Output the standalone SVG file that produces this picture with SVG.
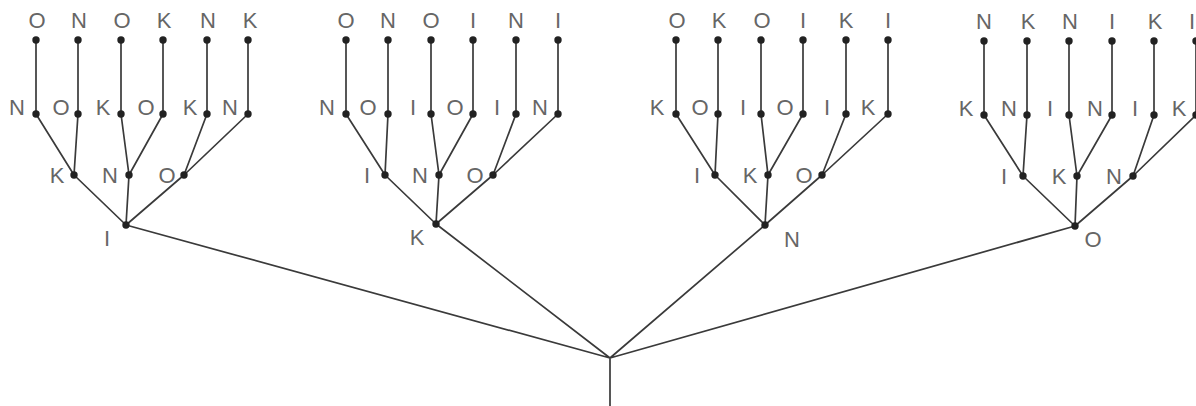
<svg xmlns="http://www.w3.org/2000/svg" width="1196" height="406" viewBox="0 0 1196 406">
<style>
.e{stroke:#3a3a3a;stroke-width:1.7;fill:none}
.d{fill:#222}
.t{font-family:"Liberation Sans",Arial,sans-serif;font-size:22px;fill:#666;text-anchor:middle}
</style>
<defs><circle id="dot" r="3.7" class="d"/></defs>
<rect width="1196" height="406" fill="#fff"/>
<g id="connectors">
<path class="e" d="M610,358V406M610,358L126,225M610,358L436,224M610,358L765,225M610,358L1075,226"/>
<path class="e" d="M126,225L74,175M126,225L129,175M126,225L184,175M74,175L36,114M74,175L78,114M129,175L121,114M129,175L163,114M184,175L207,114M184,175L248,114M36,114V40M78,114V40M121,114V40M163,114V40M207,114V40M248,114V40"/>
<path class="e" d="M436,224L385,175M436,224L439,175M436,224L493,175M385,175L346,114M385,175L388,114M439,175L431,114M439,175L473,114M493,175L516,114M493,175L558,114M346,114V40M388,114V40M431,114V40M473,114V40M516,114V40M558,114V40"/>
<path class="e" d="M765,225L715,175M765,225L768,175M765,225L822,175M715,175L676,114M715,175L718,114M768,175L761,114M768,175L803,114M822,175L846,114M822,175L888,114M676,114V40M718,114V40M761,114V40M803,114V40M846,114V40M888,114V40"/>
<path class="e" d="M1075,226L1023,176M1075,226L1077,176M1075,226L1133,176M1023,176L984,115M1023,176L1027,115M1077,176L1069,115M1077,176L1112,115M1133,176L1154,115M1133,176L1196,115M984,115V41M1027,115V41M1069,115V41M1112,115V41M1154,115V41M1196,115V41"/>
</g>
<g id="nA"><use href="#dot" x="126" y="225"/><text class="t" x="107" y="246">I</text></g>
<g id="nA1"><use href="#dot" x="74" y="175"/><text class="t" x="57" y="183">K</text></g>
<g id="nA2"><use href="#dot" x="129" y="175"/><text class="t" x="110" y="183">N</text></g>
<g id="nA3"><use href="#dot" x="184" y="175"/><text class="t" x="167" y="183">O</text></g>
<g id="nA11"><use href="#dot" x="36" y="114"/><text class="t" x="17" y="115">N</text></g>
<g id="nA12"><use href="#dot" x="78" y="114"/><text class="t" x="61" y="115">O</text></g>
<g id="nA21"><use href="#dot" x="121" y="114"/><text class="t" x="103" y="115">K</text></g>
<g id="nA22"><use href="#dot" x="163" y="114"/><text class="t" x="146" y="115">O</text></g>
<g id="nA31"><use href="#dot" x="207" y="114"/><text class="t" x="190" y="115">K</text></g>
<g id="nA32"><use href="#dot" x="248" y="114"/><text class="t" x="230" y="115">N</text></g>
<g id="nA111"><use href="#dot" x="36" y="40"/><text class="t" x="37" y="28">O</text></g>
<g id="nA121"><use href="#dot" x="78" y="40"/><text class="t" x="79" y="28">N</text></g>
<g id="nA211"><use href="#dot" x="121" y="40"/><text class="t" x="122" y="28">O</text></g>
<g id="nA221"><use href="#dot" x="163" y="40"/><text class="t" x="164" y="28">K</text></g>
<g id="nA311"><use href="#dot" x="207" y="40"/><text class="t" x="208" y="28">N</text></g>
<g id="nA321"><use href="#dot" x="248" y="40"/><text class="t" x="250" y="28">K</text></g>

<g id="nB"><use href="#dot" x="436" y="224"/><text class="t" x="417" y="245">K</text></g>
<g id="nB1"><use href="#dot" x="385" y="175"/><text class="t" x="367" y="183">I</text></g>
<g id="nB2"><use href="#dot" x="439" y="175"/><text class="t" x="420" y="183">N</text></g>
<g id="nB3"><use href="#dot" x="493" y="175"/><text class="t" x="475" y="183">O</text></g>
<g id="nB11"><use href="#dot" x="346" y="114"/><text class="t" x="327" y="115">N</text></g>
<g id="nB12"><use href="#dot" x="388" y="114"/><text class="t" x="368" y="115">O</text></g>
<g id="nB21"><use href="#dot" x="431" y="114"/><text class="t" x="413" y="115">I</text></g>
<g id="nB22"><use href="#dot" x="473" y="114"/><text class="t" x="455" y="115">O</text></g>
<g id="nB31"><use href="#dot" x="516" y="114"/><text class="t" x="497" y="115">I</text></g>
<g id="nB32"><use href="#dot" x="558" y="114"/><text class="t" x="540" y="115">N</text></g>
<g id="nB111"><use href="#dot" x="346" y="40"/><text class="t" x="346" y="28">O</text></g>
<g id="nB121"><use href="#dot" x="388" y="40"/><text class="t" x="388" y="28">N</text></g>
<g id="nB211"><use href="#dot" x="431" y="40"/><text class="t" x="431" y="28">O</text></g>
<g id="nB221"><use href="#dot" x="473" y="40"/><text class="t" x="473" y="28">I</text></g>
<g id="nB311"><use href="#dot" x="516" y="40"/><text class="t" x="516" y="28">N</text></g>
<g id="nB321"><use href="#dot" x="558" y="40"/><text class="t" x="558" y="28">I</text></g>

<g id="nC"><use href="#dot" x="765" y="225"/><text class="t" x="792" y="247">N</text></g>
<g id="nC1"><use href="#dot" x="715" y="175"/><text class="t" x="697" y="183">I</text></g>
<g id="nC2"><use href="#dot" x="768" y="175"/><text class="t" x="750" y="183">K</text></g>
<g id="nC3"><use href="#dot" x="822" y="175"/><text class="t" x="804" y="183">O</text></g>
<g id="nC11"><use href="#dot" x="676" y="114"/><text class="t" x="657" y="115">K</text></g>
<g id="nC12"><use href="#dot" x="718" y="114"/><text class="t" x="700" y="115">O</text></g>
<g id="nC21"><use href="#dot" x="761" y="114"/><text class="t" x="743" y="115">I</text></g>
<g id="nC22"><use href="#dot" x="803" y="114"/><text class="t" x="785" y="115">O</text></g>
<g id="nC31"><use href="#dot" x="846" y="114"/><text class="t" x="827" y="115">I</text></g>
<g id="nC32"><use href="#dot" x="888" y="114"/><text class="t" x="868" y="115">K</text></g>
<g id="nC111"><use href="#dot" x="676" y="40"/><text class="t" x="677" y="28">O</text></g>
<g id="nC121"><use href="#dot" x="718" y="40"/><text class="t" x="719" y="28">K</text></g>
<g id="nC211"><use href="#dot" x="761" y="40"/><text class="t" x="762" y="28">O</text></g>
<g id="nC221"><use href="#dot" x="803" y="40"/><text class="t" x="803" y="28">I</text></g>
<g id="nC311"><use href="#dot" x="846" y="40"/><text class="t" x="846" y="28">K</text></g>
<g id="nC321"><use href="#dot" x="888" y="40"/><text class="t" x="888" y="28">I</text></g>

<g id="nD"><use href="#dot" x="1075" y="226"/><text class="t" x="1093" y="247">O</text></g>
<g id="nD1"><use href="#dot" x="1023" y="176"/><text class="t" x="1004" y="184">I</text></g>
<g id="nD2"><use href="#dot" x="1077" y="176"/><text class="t" x="1059" y="184">K</text></g>
<g id="nD3"><use href="#dot" x="1133" y="176"/><text class="t" x="1114" y="184">N</text></g>
<g id="nD11"><use href="#dot" x="984" y="115"/><text class="t" x="966" y="116">K</text></g>
<g id="nD12"><use href="#dot" x="1027" y="115"/><text class="t" x="1009" y="116">N</text></g>
<g id="nD21"><use href="#dot" x="1069" y="115"/><text class="t" x="1050" y="116">I</text></g>
<g id="nD22"><use href="#dot" x="1112" y="115"/><text class="t" x="1095" y="116">N</text></g>
<g id="nD31"><use href="#dot" x="1154" y="115"/><text class="t" x="1135" y="116">I</text></g>
<g id="nD32"><use href="#dot" x="1196" y="115"/><text class="t" x="1179" y="116">K</text></g>
<g id="nD111"><use href="#dot" x="984" y="41"/><text class="t" x="984" y="29">N</text></g>
<g id="nD121"><use href="#dot" x="1027" y="41"/><text class="t" x="1028" y="29">K</text></g>
<g id="nD211"><use href="#dot" x="1069" y="41"/><text class="t" x="1070" y="29">N</text></g>
<g id="nD221"><use href="#dot" x="1112" y="41"/><text class="t" x="1112" y="29">I</text></g>
<g id="nD311"><use href="#dot" x="1154" y="41"/><text class="t" x="1155" y="29">K</text></g>
<g id="nD321"><use href="#dot" x="1196" y="41"/><text class="t" x="1192" y="29">I</text></g>
</svg>
